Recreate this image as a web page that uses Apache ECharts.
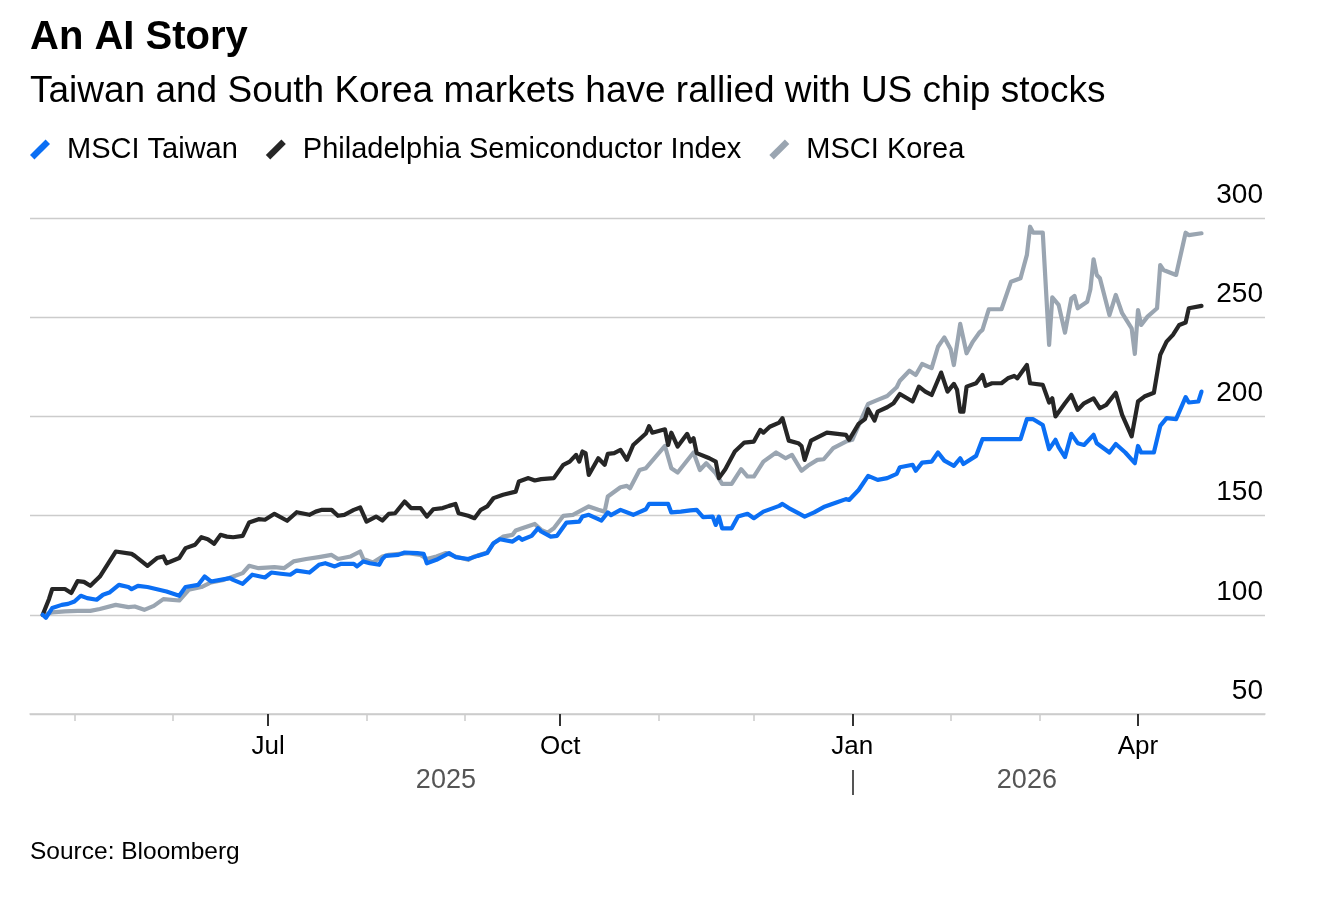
<!DOCTYPE html>
<html>
<head>
<meta charset="utf-8">
<script src="https://cdn.jsdelivr.net/npm/echarts@6/dist/echarts.min.js"></script>
<style>
  html, body { margin: 0; padding: 0; background: #fff; }
  #chart { width: 1328px; height: 908px; }
</style>
</head>
<body>
<div id="chart"></div>
<script>
// index levels, rebased to 100 on 21 Apr 2025
var taiwanDates = ['2025-04-21','2025-04-22','2025-04-24','2025-04-27','2025-04-29','2025-05-01','2025-05-03','2025-05-05','2025-05-08','2025-05-10','2025-05-12','2025-05-15','2025-05-18','2025-05-19','2025-05-21','2025-05-24','2025-05-27','2025-05-30','2025-06-03','2025-06-05','2025-06-09','2025-06-11','2025-06-13','2025-06-16','2025-06-19','2025-06-20','2025-06-23','2025-06-26','2025-06-30','2025-07-02','2025-07-05','2025-07-08','2025-07-10','2025-07-14','2025-07-17','2025-07-19','2025-07-22','2025-07-24','2025-07-28','2025-07-29','2025-07-31','2025-08-02','2025-08-05','2025-08-06','2025-08-07','2025-08-11','2025-08-13','2025-08-17','2025-08-19','2025-08-20','2025-08-23','2025-08-27','2025-08-29','2025-09-02','2025-09-05','2025-09-08','2025-09-10','2025-09-12','2025-09-16','2025-09-18','2025-09-19','2025-09-22','2025-09-24','2025-09-25','2025-09-28','2025-09-30','2025-10-03','2025-10-07','2025-10-08','2025-10-10','2025-10-13','2025-10-14','2025-10-16','2025-10-17','2025-10-20','2025-10-24','2025-10-28','2025-10-29','2025-11-04','2025-11-05','2025-11-08','2025-11-11','2025-11-13','2025-11-15','2025-11-18','2025-11-19','2025-11-20','2025-11-21','2025-11-24','2025-11-26','2025-11-29','2025-12-01','2025-12-04','2025-12-09','2025-12-10','2025-12-12','2025-12-15','2025-12-17','2025-12-20','2025-12-23','2025-12-27','2025-12-30','2025-12-31','2026-01-03','2026-01-06','2026-01-09','2026-01-12','2026-01-15','2026-01-16','2026-01-20','2026-01-21','2026-01-23','2026-01-26','2026-01-28','2026-01-30','2026-02-02','2026-02-04','2026-02-05','2026-02-09','2026-02-11','2026-02-23','2026-02-25','2026-02-27','2026-03-02','2026-03-04','2026-03-06','2026-03-07','2026-03-09','2026-03-11','2026-03-13','2026-03-15','2026-03-18','2026-03-19','2026-03-23','2026-03-25','2026-03-28','2026-03-31','2026-04-01','2026-04-02','2026-04-06','2026-04-08','2026-04-10','2026-04-13','2026-04-16','2026-04-17','2026-04-20','2026-04-21'];
var taiwanValues = [100,98.5,103.4,105,105.5,106.7,109.6,108.4,107.6,110.1,111.2,115.1,114,112.9,114.6,114,112.9,111.7,109.6,114,115.1,119.3,116.8,117.6,118.5,117.6,115.6,120.2,118.8,121.3,120.7,120.2,122.3,121.3,125.2,126,124.4,125.7,125.7,124.4,126.9,126,125.2,128.1,129.7,130.2,131.4,131.1,130.7,126,127.7,131.1,129.1,128.1,129.7,131.1,136.1,138.1,136.9,139.1,137.8,139.8,143.6,142,139.4,139.8,146.5,147,149.5,150.4,148.2,147.5,151.6,150.2,152.9,150.4,153.2,155.9,155.9,151.6,152,152.6,152.9,149.2,149.5,145.3,149.5,143.6,143.6,149.5,150.9,148.7,152,154.9,155.9,153.8,151.2,149.5,151.6,154.3,156.6,158.3,157.9,162.9,170,168,168.9,171,174.4,175.6,172.6,176.7,177.2,181.8,177.7,175.1,178.9,176,180.1,188.5,188.5,198.6,198.6,195.7,183.5,188.2,184.5,179.5,191.2,186.5,185.6,190.7,186.5,181.8,186.1,181.8,176.4,185.1,181.8,181.8,195.2,199.1,198.6,209.7,207,207.5,212.5];

var soxDates = ['2025-04-21','2025-04-23','2025-04-24','2025-04-28','2025-04-30','2025-05-02','2025-05-04','2025-05-06','2025-05-09','2025-05-14','2025-05-19','2025-05-20','2025-05-24','2025-05-27','2025-05-29','2025-05-30','2025-06-03','2025-06-05','2025-06-08','2025-06-10','2025-06-12','2025-06-14','2025-06-16','2025-06-18','2025-06-20','2025-06-23','2025-06-25','2025-06-28','2025-06-30','2025-07-03','2025-07-07','2025-07-10','2025-07-14','2025-07-16','2025-07-18','2025-07-21','2025-07-23','2025-07-25','2025-07-28','2025-07-30','2025-08-01','2025-08-04','2025-08-06','2025-08-08','2025-08-10','2025-08-13','2025-08-15','2025-08-18','2025-08-20','2025-08-22','2025-08-25','2025-08-27','2025-08-29','2025-08-30','2025-09-02','2025-09-04','2025-09-06','2025-09-08','2025-09-10','2025-09-13','2025-09-17','2025-09-18','2025-09-21','2025-09-23','2025-09-25','2025-09-29','2025-10-02','2025-10-04','2025-10-06','2025-10-07','2025-10-08','2025-10-09','2025-10-10','2025-10-13','2025-10-15','2025-10-16','2025-10-18','2025-10-20','2025-10-22','2025-10-24','2025-10-28','2025-10-29','2025-10-30','2025-11-03','2025-11-04','2025-11-05','2025-11-07','2025-11-10','2025-11-11','2025-11-12','2025-11-13','2025-11-17','2025-11-19','2025-11-20','2025-11-22','2025-11-25','2025-11-28','2025-12-01','2025-12-03','2025-12-04','2025-12-06','2025-12-09','2025-12-10','2025-12-12','2025-12-15','2025-12-16','2025-12-17','2025-12-19','2025-12-24','2025-12-30','2025-12-31','2026-01-03','2026-01-05','2026-01-06','2026-01-08','2026-01-09','2026-01-12','2026-01-14','2026-01-16','2026-01-20','2026-01-22','2026-01-24','2026-01-26','2026-01-29','2026-01-31','2026-02-02','2026-02-03','2026-02-04','2026-02-05','2026-02-06','2026-02-09','2026-02-11','2026-02-12','2026-02-14','2026-02-17','2026-02-19','2026-02-21','2026-02-22','2026-02-25','2026-02-26','2026-03-02','2026-03-04','2026-03-05','2026-03-06','2026-03-09','2026-03-11','2026-03-13','2026-03-15','2026-03-18','2026-03-20','2026-03-22','2026-03-25','2026-03-27','2026-03-30','2026-04-01','2026-04-03','2026-04-06','2026-04-08','2026-04-10','2026-04-12','2026-04-14','2026-04-16','2026-04-17','2026-04-21'];
var soxValues = [100,108,113,113,111,117,116.6,114.6,119.3,131.9,130.7,129.7,124.7,128.6,129.4,126,128.6,133.6,135.3,139.1,138.1,135.8,140.3,139.4,139.1,139.8,146.5,148.2,147.9,150.9,147.4,151.7,150.4,152,152.9,152.9,149.9,150.4,152.9,154.1,147,149.5,147.5,150.9,151.2,157.1,153.8,153.8,149.5,153.2,153.8,154.9,155.9,151.2,149.9,148.7,152.9,154.6,158.8,160.5,162.1,167.2,168.9,167.7,168.4,168.9,175.6,177.2,180.6,177.2,182.3,181.5,170.5,178.9,175.6,181.1,181.5,183.1,178.1,185.6,191.4,195.1,191.8,193.5,185.6,191.8,184.8,191.2,187.3,189,181.5,178.9,177.2,168.9,173.4,182.3,186.8,187.3,193.2,191.8,194.8,196.9,199.1,187.8,186.5,185.1,178.1,187.8,191.8,190.7,188.2,196.2,198.6,203.6,197.9,202.4,204.6,206.6,211.3,207.5,215,212.5,210.8,222.1,212.5,216.4,213.4,202.4,202.4,215,216.7,220.9,215.4,216.7,216.7,219.2,220.4,219.2,225.9,216.7,215.9,207,209.1,200,206.6,210.8,203.3,206.6,209.1,204.1,205.8,211.9,200.8,189.9,207.5,210,211.9,231,237.7,241.1,246.1,247.3,254.5,255.7];

var koreaDates = ['2025-04-21','2025-04-24','2025-04-28','2025-05-02','2025-05-06','2025-05-09','2025-05-14','2025-05-18','2025-05-20','2025-05-23','2025-05-26','2025-05-29','2025-06-03','2025-06-06','2025-06-10','2025-06-13','2025-06-17','2025-06-20','2025-06-23','2025-06-25','2025-06-28','2025-07-03','2025-07-06','2025-07-09','2025-07-13','2025-07-17','2025-07-21','2025-07-23','2025-07-27','2025-07-30','2025-07-31','2025-08-03','2025-08-06','2025-08-08','2025-08-14','2025-08-18','2025-08-20','2025-08-23','2025-08-26','2025-08-29','2025-09-02','2025-09-04','2025-09-08','2025-09-10','2025-09-13','2025-09-16','2025-09-17','2025-09-19','2025-09-23','2025-09-25','2025-09-27','2025-09-29','2025-10-02','2025-10-05','2025-10-10','2025-10-13','2025-10-15','2025-10-16','2025-10-20','2025-10-22','2025-10-23','2025-10-26','2025-10-28','2025-11-03','2025-11-05','2025-11-07','2025-11-12','2025-11-14','2025-11-16','2025-11-19','2025-11-21','2025-11-24','2025-11-27','2025-11-29','2025-12-01','2025-12-04','2025-12-08','2025-12-11','2025-12-13','2025-12-16','2025-12-18','2025-12-21','2025-12-23','2025-12-26','2025-12-30','2026-01-01','2026-01-04','2026-01-06','2026-01-09','2026-01-12','2026-01-15','2026-01-16','2026-01-19','2026-01-21','2026-01-23','2026-01-26','2026-01-28','2026-01-30','2026-02-01','2026-02-02','2026-02-04','2026-02-06','2026-02-08','2026-02-10','2026-02-11','2026-02-13','2026-02-17','2026-02-20','2026-02-23','2026-02-25','2026-02-26','2026-02-27','2026-03-02','2026-03-04','2026-03-05','2026-03-07','2026-03-09','2026-03-11','2026-03-12','2026-03-13','2026-03-16','2026-03-17','2026-03-18','2026-03-19','2026-03-20','2026-03-23','2026-03-25','2026-03-27','2026-03-30','2026-03-31','2026-04-01','2026-04-02','2026-04-04','2026-04-07','2026-04-08','2026-04-09','2026-04-13','2026-04-16','2026-04-17','2026-04-21'];
var koreaValues = [100,101.2,101.7,102,102,102.9,105,103.9,104.2,102.5,104.5,107.9,107.2,112.6,114,116.3,117.6,119.3,121,124.7,123.5,124,123.5,126.9,128.1,129.1,130.2,128.1,129.4,131.9,128.1,126.4,129.4,130.2,131.1,130.2,128.1,129.4,131.1,129.4,127.7,129.4,131.4,136.1,139.4,140.3,142.5,143.6,145.8,142.8,141.4,143.6,149.9,150.4,154.6,152.9,152,159.6,164.3,165,163.8,173,173.9,185.1,173.9,171.7,181.8,173,176.4,171.3,166,166,173.4,169.7,169.7,177.2,181.8,178.9,180.6,172.6,175.1,178.1,178.4,184,187.3,188.2,199.1,206.3,208.3,210.3,214.7,218,223,220.9,226.4,224.3,235.1,239.8,233.8,225.9,246.6,231.8,237.7,242.2,243.6,254,254,267.9,269.6,281.4,295.6,292.6,292.6,236,260,256.2,242.2,259.5,260.7,254.5,257.8,264.1,279.2,271.3,269.6,251.1,261.2,252,244.4,231.5,253.6,246.1,250.3,254.5,276.3,273.8,271.3,292.6,291.4,292.3];

var seriesNames = ['MSCI Taiwan', 'Philadelphia Semiconductor Index', 'MSCI Korea'];
var seriesColors = ['#0b6ff4', '#262626', '#9aa5b1'];

var axisStart = '2025-04-17';
var axisEnd = '2026-05-11';
var monthTicks = ['2025-05-01','2025-06-01','2025-07-01','2025-08-01','2025-09-01','2025-10-01','2025-11-01','2025-12-01','2026-01-01','2026-02-01','2026-03-01','2026-04-01'];
var quarterTicks = ['2025-07-01','2025-10-01','2026-01-01','2026-04-01'];
var quarterLabels = ['Jul','Oct','Jan','Apr'];
var yearLabelDates = ['2025-08-26','2026-02-25'];
var yearLabels = ['2025','2026'];
var yearBreak = ['2026-01-01'];
var yTicks = [50, 300, 50]; // min, max, step

var font = '"Liberation Sans", Arial, Helvetica, sans-serif';

function toTime(s) {
    var p = s.split('-');
    return new Date(+p[0], +p[1] - 1, +p[2]).getTime();
}
function pairs(dates, values) {
    return dates.map(function (d, i) { return [toTime(d), values[i]]; });
}

var quarterTimes = quarterTicks.map(toTime);
var yearTimes = yearLabelDates.map(toTime);
var xMin = toTime(axisStart), xMax = toTime(axisEnd);

var chart = echarts.init(document.getElementById('chart'));

var slash = 'path://M0,16 L14,2 L18,6 L4,20 Z';

// date axes are value axes over timestamps so the ticks can sit on month starts
function dateAxis(extra) {
    var base = {
        type: 'value', min: xMin, max: xMax, position: 'bottom',
        splitLine: { show: false }
    };
    for (var k in extra) base[k] = extra[k];
    return base;
}

function lineSeries(i, dates, values, z) {
    return {
        name: seriesNames[i], type: 'line', xAxisIndex: 0, yAxisIndex: 0,
        data: pairs(dates, values), showSymbol: false, z: z,
        itemStyle: { color: seriesColors[i] },
        lineStyle: { color: seriesColors[i], width: 4.2, join: 'round', cap: 'round' }
    };
}

option = {
    animation: false,
    backgroundColor: '#fff',
    textStyle: { fontFamily: font },
    title: [
        {
            text: 'An AI Story',
            left: 30, top: 18, padding: 0,
            textStyle: { fontFamily: font, fontSize: 40, fontWeight: 'bold', color: '#000' }
        },
        {
            text: 'Taiwan and South Korea markets have rallied with US chip stocks',
            left: 30, top: 73, padding: 0,
            textStyle: { fontFamily: font, fontSize: 37, fontWeight: 'normal', color: '#000' }
        },
        {
            text: 'Source: Bloomberg',
            left: 30, top: 840, padding: 0,
            textStyle: { fontFamily: font, fontSize: 24.5, fontWeight: 'normal', color: '#000' }
        }
    ],
    legend: {
        left: 30, top: 135, padding: 0,
        itemWidth: 20, itemHeight: 20, itemGap: 28,
        icon: slash,
        data: seriesNames,
        textStyle: { fontFamily: font, fontSize: 29, color: '#000', padding: [0, 0, 0, 12] }
    },
    grid: { left: 30, right: 63, top: 218, bottom: 194, containLabel: false },
    xAxis: [
        dateAxis({
            axisLine: { show: true, lineStyle: { color: '#cccccc', width: 1.5 } },
            axisTick: { show: true, customValues: monthTicks.map(toTime), length: 7, lineStyle: { color: '#cccccc', width: 1.5 } },
            axisLabel: { show: false }
        }),
        dateAxis({
            axisLine: { show: false },
            axisTick: { show: true, customValues: quarterTimes, length: 12, lineStyle: { color: '#333', width: 2 } },
            axisLabel: {
                show: true, customValues: quarterTimes, margin: 20,
                fontFamily: font, fontSize: 26, color: '#000',
                formatter: function (v) { return quarterLabels[quarterTimes.indexOf(v)] || ''; }
            }
        }),
        dateAxis({
            offset: 81,
            axisLine: { show: false },
            axisTick: { show: true, inside: true, customValues: yearBreak.map(toTime), length: 25, lineStyle: { color: '#555', width: 2 } },
            axisLabel: {
                show: true, inside: true, customValues: yearTimes, margin: 1,
                fontFamily: font, fontSize: 27, color: '#555',
                formatter: function (v) { return yearLabels[yearTimes.indexOf(v)] || ''; }
            }
        })
    ],
    yAxis: {
        type: 'value', position: 'right',
        min: yTicks[0], max: yTicks[1], interval: yTicks[2],
        axisLine: { show: false },
        axisTick: { show: false },
        axisLabel: {
            inside: true, margin: 2, verticalAlign: 'bottom', padding: [0, 0, 9, 0],
            fontFamily: font, fontSize: 28, color: '#000'
        },
        splitLine: { show: true, lineStyle: { color: '#cccccc', width: 1.3 } }
    },
    series: [
        lineSeries(0, taiwanDates, taiwanValues, 5),
        lineSeries(1, soxDates, soxValues, 4),
        lineSeries(2, koreaDates, koreaValues, 3)
    ]
};
chart.setOption(option);
</script>
</body>
</html>
